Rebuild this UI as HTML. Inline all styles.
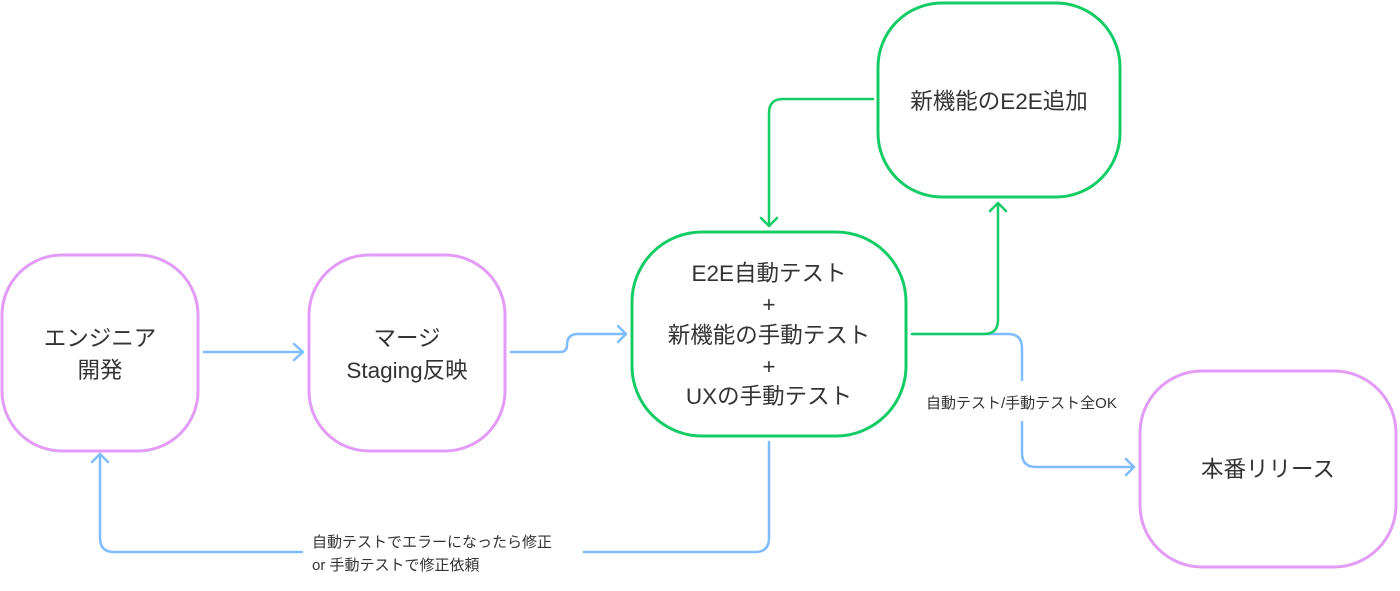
<!DOCTYPE html>
<html><head><meta charset="utf-8"><style>
body{margin:0;background:#fff;width:1400px;height:586px;overflow:hidden}
svg text{font-family:"Liberation Sans","Noto Sans CJK JP",sans-serif;fill:#333}
</style></head><body>
<svg width="1400" height="586" viewBox="0 0 1400 586">
<g fill="none" stroke-width="3">
<rect x="2" y="255" width="196" height="196" rx="60" stroke="#e29bf7"/>
<rect x="309" y="255" width="196" height="196" rx="60" stroke="#e29bf7"/>
<rect x="1140" y="371" width="256" height="196" rx="62" stroke="#e29bf7"/>
<rect x="632" y="232" width="274" height="204" rx="70" stroke="#14cc66"/>
<rect x="878" y="3" width="242" height="194" rx="64" stroke="#14cc66"/>
</g>
<g fill="none" stroke="#7fbcff" stroke-width="2.5" stroke-linecap="round" stroke-linejoin="round">
<path d="M204 352 H303 M294 344 L303 352 L294 360"/>
<path d="M511 352 H560 Q567 352 567 345 Q567 334 578 334 H626 M618 326 L626 334 L618 342"/>
<path d="M912 334 H1008 Q1022 334 1022 348 V380 M1022 422 V453 Q1022 467 1036 467 H1134 M1126 459 L1134 467 L1126 475"/>
<path d="M769 442 V538 Q769 552 755 552 H584 M302 552 H114 Q100 552 100 538 V454 M92 462 L100 454 L108 462"/>
</g>
<g fill="none" stroke="#14cc66" stroke-width="2.5" stroke-linecap="round" stroke-linejoin="round">
<path d="M873 99 H783 Q769 99 769 113 V226 M761 218 L769 226 L777 218"/>
<path d="M912 334 H984 Q998 334 998 320 V203 M990 211 L998 203 L1006 211"/>
</g>
<g font-size="22.5" text-anchor="middle">
<text x="100" y="346">エンジニア</text>
<text x="100" y="378">開発</text>
<text x="407" y="346">マージ</text>
<text x="407" y="378">Staging反映</text>
<text x="769" y="281">E2E自動テスト</text>
<text x="769" y="312">+</text>
<text x="769" y="343">新機能の手動テスト</text>
<text x="769" y="374">+</text>
<text x="769" y="404">UXの手動テスト</text>
<text x="999" y="109">新機能のE2E追加</text>
<text x="1268" y="477">本番リリース</text>
</g>
<g font-size="15">
<text x="926" y="408">自動テスト/手動テスト全OK</text>
<text x="312" y="547">自動テストでエラーになったら修正</text>
<text x="312" y="570">or 手動テストで修正依頼</text>
</g>
</svg>
</body></html>
